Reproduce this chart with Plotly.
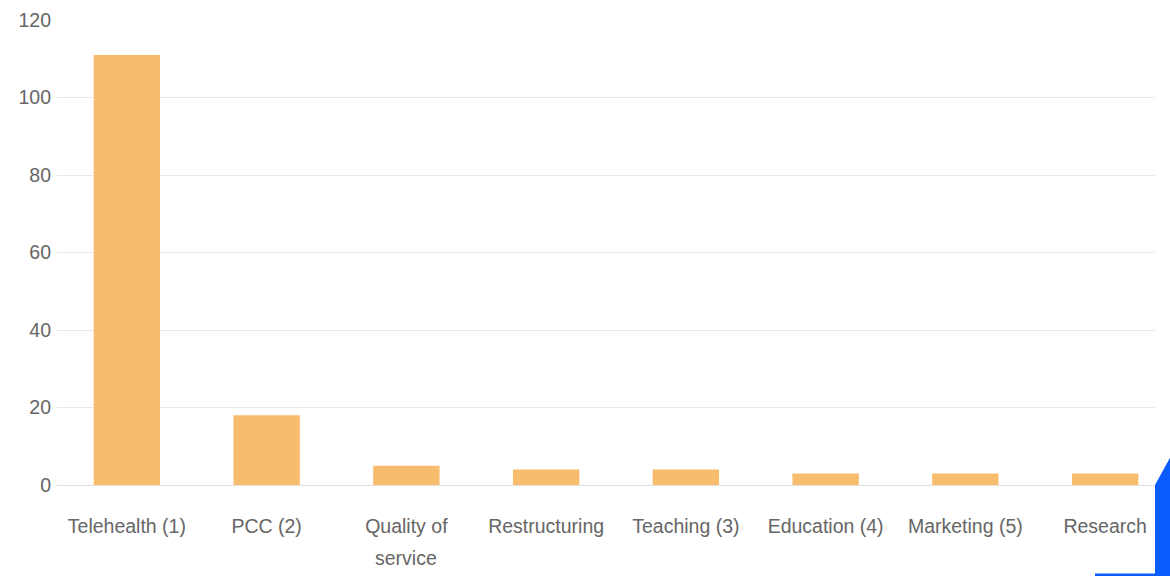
import plotly.graph_objects as go

categories = ["Telehealth (1)", "PCC (2)", "Quality of", "Restructuring",
              "Teaching (3)", "Education (4)", "Marketing (5)", "Research"]
values = [111, 18, 5, 4, 4, 3, 3, 3]
y_ticks = [0, 20, 40, 60, 80, 100, 120]
wrapped_label = ("Quality of", "service")  # second line of the wrapped category label

W, H = 1170, 576
ML, MT = 57, 20
PLOT_R, PLOT_B = 1155, 485
MR, MB = W - PLOT_R, H - PLOT_B
PW, PH = W - ML - MR, H - MT - MB

def px(x):
    return (x - ML) / PW

def py(y):
    return (H - MB - y) / PH

fig = go.Figure(go.Bar(
    x=categories, y=values,
    marker=dict(color="#f7bd6c", line=dict(width=0)),
    width=0.475,
    hoverinfo="x+y",
))

FONT = dict(family="Liberation Sans, Arial, sans-serif", size=19.5, color="#666666")

fig.update_layout(
    width=W, height=H,
    margin=dict(l=ML, r=MR, t=MT, b=MB, pad=0, autoexpand=False),
    plot_bgcolor="white", paper_bgcolor="white",
    showlegend=False,
    font=FONT,
    xaxis=dict(
        range=[-0.5, 7.357], showgrid=False, showline=False, zeroline=False,
        ticks="", tickfont=FONT, ticklabelstandoff=27, automargin=False,
        tickangle=0, fixedrange=True,
    ),
    yaxis=dict(
        range=[0, 120], tickvals=y_ticks, showgrid=True, gridcolor="#e8e8e8",
        gridwidth=1, zeroline=True, zerolinecolor="#e0e0e0", zerolinewidth=1,
        showline=False, ticks="", tickfont=FONT, automargin=False,
        ticklabelstandoff=5, fixedrange=True,
    ),
    annotations=[
        dict(x=wrapped_label[0], xref="x", y=py(558), yref="paper",
             text=wrapped_label[1], showarrow=False, font=FONT,
             xanchor="center", yanchor="middle"),
    ],
    shapes=[
        dict(type="path", xref="paper", yref="paper",
             path=f"M {px(1155)} {py(485)} L {px(1171)} {py(456)} L {px(1171)} {py(577)} L {px(1155)} {py(577)} Z",
             fillcolor="#0a5cff", line=dict(width=0), layer="above"),
        dict(type="rect", xref="paper", yref="paper",
             x0=px(1095), x1=px(1171), y0=py(577), y1=py(573.5),
             fillcolor="#0a5cff", line=dict(width=0), layer="above"),
    ],
)

fig.write_html(
    "out.html",
    config={"displayModeBar": False},
    post_script="document.body.style.margin='0';document.body.style.overflow='hidden';",
)
